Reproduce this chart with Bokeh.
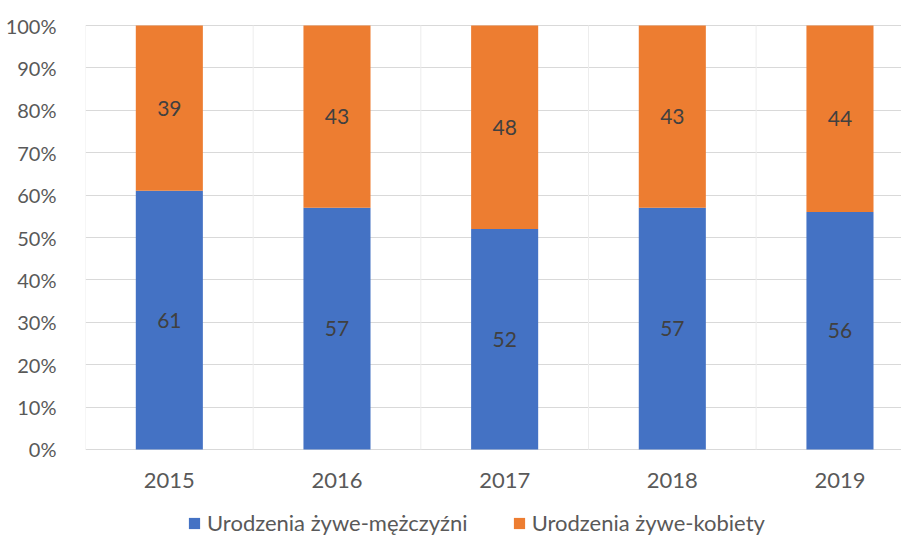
from bokeh.plotting import figure
from bokeh.models import (ColumnDataSource, FixedTicker, PrintfTickFormatter,
                          Range1d, Legend, LegendItem)
from bokeh.core.properties import value
from bokeh.embed import file_html
from bokeh.resources import INLINE

years = ["2015", "2016", "2017", "2018", "2019"]
male = [61, 57, 52, 57, 56]
female = [39, 43, 48, 43, 44]
series_names = ["Urodzenia żywe-mężczyźni", "Urodzenia żywe-kobiety"]
colors = ["#4472C4", "#ED7D31"]
y_ticks = [0, 10, 20, 30, 40, 50, 60, 70, 80, 90, 100]

FONT = "Lato"

xs = list(range(len(years)))
src = ColumnDataSource(dict(
    x=xs,
    male=male,
    female=female,
    top=[m + f for m, f in zip(male, female)],
    male_mid=[m / 2 for m in male],
    female_mid=[m + f / 2 for m, f in zip(male, female)],
    male_lbl=[str(v) for v in male],
    female_lbl=[str(v) for v in female],
    base=[y_ticks[0]] * len(years),
    year=years,
))
bounds = [i - 0.5 for i in range(len(years) + 1)]
grid_src = ColumnDataSource(dict(x=bounds, y0=[y_ticks[0]] * len(bounds),
                                 y1=[y_ticks[-1]] * len(bounds)))

# frame spans the full canvas height; 0..100 maps to px 25..449
p = figure(width=901, height=536, output_backend="svg",
           toolbar_location=None, x_axis_location=None,
           x_range=Range1d(-0.5, 4.367), y_range=Range1d(-20.52, 105.9),
           min_border_left=85, min_border_right=0, min_border_top=0,
           min_border_bottom=0)
p.outline_line_color = None
p.background_fill_color = "white"
p.border_fill_color = "white"

# vertical category-separating grid lines (only within 0..100)
p.segment(x0="x", x1="x", y0="y0", y1="y1", source=grid_src,
          line_color="#ededed", line_width=1)

r1 = p.vbar(x="x", width=0.4, bottom=0, top="male", source=src,
            fill_color=colors[0], line_color=None)
r2 = p.vbar(x="x", width=0.4, bottom="male", top="top", source=src,
            fill_color=colors[1], line_color=None)

p.text(x="x", y="male_mid", text="male_lbl", source=src,
       text_align="center", text_baseline="middle",
       text_font=value(FONT), text_font_size="21px", text_color="#404040")
p.text(x="x", y="female_mid", text="female_lbl", source=src,
       text_align="center", text_baseline="middle",
       text_font=value(FONT), text_font_size="21px", text_color="#404040")

# category labels under the baseline
p.text(x="x", y="base", text="year", source=src, y_offset=31,
       text_align="center", text_baseline="middle",
       text_font=value(FONT), text_font_size="22px", text_color="#595959")

# y axis
p.yaxis.ticker = FixedTicker(ticks=y_ticks)
p.yaxis.formatter = PrintfTickFormatter(format="%d%%")
p.yaxis.axis_line_color = None
p.yaxis.major_tick_line_color = None
p.yaxis.minor_tick_line_color = None
p.yaxis.major_label_text_font = FONT
p.yaxis.major_label_text_font_size = "20px"
p.yaxis.major_label_text_color = "#595959"
p.yaxis.major_label_standoff = 23

p.ygrid.ticker = FixedTicker(ticks=y_ticks)
p.ygrid.grid_line_color = "#d9d9d9"
p.ygrid.grid_line_width = 1
p.xgrid.visible = False

legend = Legend(items=[LegendItem(label=series_names[0], renderers=[r1]),
                       LegendItem(label=series_names[1], renderers=[r2])],
                orientation="horizontal", location=(102, 0))
legend.label_text_font = FONT
legend.label_text_font_size = "22px"
legend.label_text_color = "#595959"
legend.glyph_width = 14
legend.glyph_height = 14
legend.spacing = 44
legend.label_standoff = 6
legend.label_height = 14
legend.border_line_color = None
legend.background_fill_alpha = 0
legend.margin = 0
legend.padding = 0
p.add_layout(legend, "center")

open("out.html", "w").write(file_html(p, INLINE))
